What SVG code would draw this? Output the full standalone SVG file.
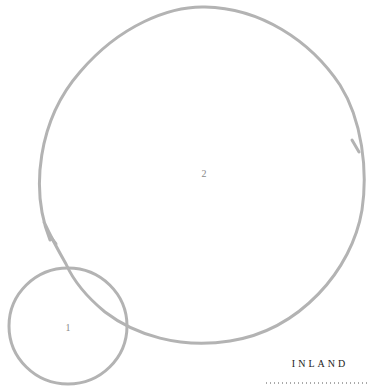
<svg xmlns="http://www.w3.org/2000/svg" width="367" height="391" viewBox="0 0 367 391">
<style>
.n{fill:none;stroke:#b3b3b3;stroke-width:3;stroke-linecap:round;stroke-linejoin:round}
.lbl{font-family:"Liberation Serif",serif;font-size:10px;fill:#8a8a8a;text-anchor:middle}
</style>
<rect width="367" height="391" fill="#fff"/>
<g id="node2">
<path class="n" d="M 50 240 C 30 190 38 120 80 72 C 120 25 170 6 205 7 C 260 8 310 40 340 85 C 362 120 368 170 362 210 C 352 270 300 330 230 341 C 180 349 135 335 105 312 C 88 298 74 282 66 264 C 58 250 50 235 44 222"/>
<path class="n" d="M 352 140 L 359 152 M 50 236 L 56 244"/>
<text class="lbl" x="204" y="177">2</text>
</g>
<g id="node1">
<ellipse class="n" cx="68" cy="326" rx="59" ry="58"/>
<text class="lbl" x="68" y="331">1</text>
</g>
<g id="connectors"></g>
<g id="legend">
<text x="320" y="367" font-family="Liberation Serif,serif" font-size="10" letter-spacing="3" fill="#222" text-anchor="middle">INLAND</text>
<line x1="266" y1="383" x2="367" y2="383" stroke="#555" stroke-width="1" stroke-dasharray="1 3"/>
</g>
</svg>
